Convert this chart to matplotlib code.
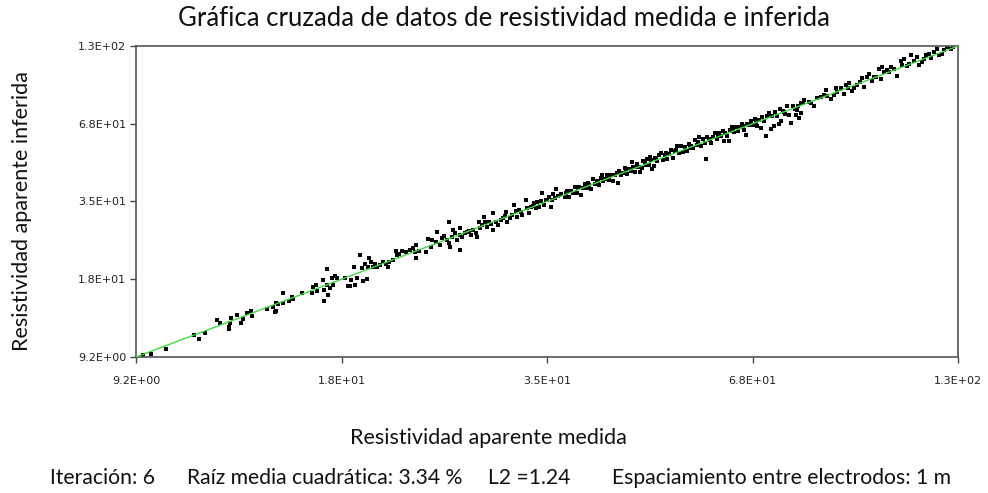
import matplotlib
matplotlib.use("Agg")
import matplotlib.pyplot as plt
import numpy as np

title = "Gráfica cruzada de datos de resistividad medida e inferida"
xlabel = "Resistividad aparente medida"
ylabel = "Resistividad aparente inferida"
footer = ["Iteración: 6", "Raíz media cuadrática: 3.34 %", "L2 =1.24",
          "Espaciamiento entre electrodos: 1 m"]
tick_labels = ["9.2E+00", "1.8E+01", "3.5E+01", "6.8E+01", "1.3E+02"]
axis_min = 9.2
axis_max = 130.0

measured = [
    9.41, 9.65, 10.13, 11.09, 11.27, 11.48, 11.94, 12.05, 12.45, 12.41,
    12.41, 12.49, 12.73, 12.89, 12.97, 13.15, 13.32, 13.37, 14.02, 14.30,
    14.44, 14.44, 14.39, 14.77, 14.77, 14.53, 15.05, 15.20, 15.24, 15.69,
    16.20, 16.25, 16.42, 16.47, 16.79, 16.84, 16.84, 17.00, 17.00, 17.06,
    17.17, 17.28, 17.34, 17.45, 17.56, 18.02, 18.20, 18.31, 18.37, 18.55,
    18.61, 18.73, 18.91, 19.03, 19.10, 19.22, 19.34, 19.40, 19.47, 19.59,
    19.72, 19.85, 19.97, 20.17, 20.36, 20.56, 20.69, 20.82, 21.03, 21.23,
    21.30, 21.50, 21.71, 21.99, 22.21, 22.43, 22.57, 22.64, 22.71, 22.93,
    23.45, 23.60, 23.83, 23.91, 24.22, 24.30, 24.46, 24.62, 24.78, 25.02,
    25.18, 25.51, 25.43, 25.18, 25.34, 26.09, 26.17, 26.09, 25.92, 26.34,
    26.59, 26.76, 27.11, 27.28, 27.55, 27.64, 27.82, 27.91, 28.09, 28.27,
    28.36, 28.54, 28.91, 29.10, 29.10, 29.38, 29.57, 29.85, 30.05, 30.35,
    30.45, 30.74, 30.94, 31.13, 31.33, 31.43, 31.84, 31.94, 32.36, 32.47,
    32.68, 32.89, 33.20, 33.42, 33.52, 33.96, 34.07, 34.29, 34.51, 34.84,
    35.07, 35.18, 35.29, 35.52, 35.63, 35.86, 36.21, 25.75, 26.93, 28.73,
    30.25, 31.64, 33.10, 34.62, 33.74,
    36.69, 36.92, 37.16, 37.40, 37.64, 37.88, 38.12, 38.37, 38.62, 38.87,
    39.12, 39.37, 39.63, 39.89, 40.14, 40.40, 40.66, 40.92, 41.19, 41.45,
    41.72, 41.99, 42.26, 42.53, 42.81, 43.09, 43.51, 43.65, 43.93, 44.21,
    44.49, 44.78, 45.07, 45.36, 45.51, 45.65, 45.95, 46.24, 46.54, 46.69,
    46.99, 47.14, 47.45, 47.75, 48.06, 48.37, 48.53, 48.84, 49.00, 49.32,
    49.63, 49.95, 50.28, 50.60, 50.93, 51.26, 51.59, 51.93, 52.26, 52.60,
    52.94, 53.28, 53.62, 36.81, 38.24, 39.50, 40.79, 42.12, 43.37, 44.64,
    46.10, 47.60, 49.16, 50.76, 52.43, 48.21, 41.32,
    53.96, 54.31, 54.66, 55.02, 55.37, 55.73, 56.09, 56.45, 56.82, 57.18,
    57.55, 57.74, 57.92, 58.30, 58.67, 59.05, 59.43, 59.82, 60.20, 60.59,
    60.98, 61.18, 61.37, 61.77, 62.17, 62.37, 62.77, 63.18, 63.58, 64.00,
    64.41, 64.83, 65.24, 65.66, 65.87, 66.30, 66.72, 67.16, 67.59, 68.02,
    68.46, 68.91, 69.13, 69.57, 70.02, 70.25, 70.70, 71.16, 71.39, 71.85,
    72.08, 72.54, 73.01, 73.25, 73.48, 73.96, 74.44, 74.92, 75.40, 75.89,
    76.38, 76.87, 77.12, 77.37, 77.87, 78.37, 78.88, 54.84, 56.27, 58.49,
    60.01, 62.97, 65.03, 67.81, 70.93, 74.20, 77.62,
    78.37, 79.13, 80.40, 81.72, 82.51, 83.57, 84.93, 85.20, 86.31, 87.15,
    87.71, 87.99, 89.13, 90.00, 90.57, 91.45, 92.34, 92.94, 94.74, 95.36,
    95.97, 96.90, 97.53, 98.47, 99.75, 100.7, 101.4, 101.7, 102.4, 103.4,
    104.7, 105.7, 106.7, 108.1, 108.4, 109.1, 110.9, 111.6, 112.7, 113.8,
    114.6, 115.7, 117.2, 118.3, 119.0, 120.3, 121.4, 122.2, 123.3, 125.3,
    126.9, 128.0, 80.91, 84.39, 91.15, 93.84, 99.11, 104.0, 110.2, 116.4,
    124.1,
]

inferred = [
    9.33, 9.43, 9.85, 11.09, 10.73, 11.28, 12.61, 12.28, 12.29, 11.88,
    11.68, 12.83, 13.15, 12.28, 12.70, 13.38, 13.60, 13.05, 13.83, 14.08,
    14.56, 13.60, 13.50, 15.86, 14.58, 14.45, 14.81, 15.33, 15.06, 15.85,
    15.84, 16.67, 16.98, 16.13, 17.71, 16.27, 14.82, 16.96, 19.41, 15.59,
    16.53, 18.01, 16.98, 18.30, 18.02, 18.02, 16.89, 16.88, 17.76, 19.83,
    17.03, 18.02, 21.88, 19.60, 17.55, 20.30, 17.87, 19.77, 21.36, 20.63,
    19.77, 20.29, 19.77, 20.17, 20.64, 20.28, 19.78, 20.63, 21.03, 22.63,
    21.88, 22.07, 22.64, 22.46, 22.83, 23.24, 22.47, 21.35, 23.82, 22.66,
    22.46, 25.09, 23.43, 24.85, 24.45, 26.63, 23.84, 25.29, 25.73, 24.87,
    28.96, 27.09, 25.54, 24.25, 23.44, 27.55, 25.95, 22.85, 24.89, 25.53,
    26.41, 26.62, 25.97, 27.07, 26.40, 25.54, 28.98, 27.56, 28.26, 30.25,
    28.99, 27.77, 28.50, 31.28, 27.09, 28.99, 28.27, 29.47, 30.05, 31.55,
    29.01, 30.00, 30.78, 33.46, 31.84, 30.24, 31.57, 30.75, 34.95, 32.66,
    31.30, 32.89, 34.07, 32.66, 34.36, 34.65, 37.10, 33.51, 34.95, 35.85,
    32.93, 34.95, 36.96, 35.73, 38.59, 36.35, 36.98, 26.39, 26.84, 29.00,
    30.51, 32.10, 33.21, 34.94, 32.94,
    36.07, 37.87, 35.93, 37.72, 37.32, 39.20, 37.16, 39.02, 36.69, 38.87,
    40.14, 38.70, 39.97, 38.57, 41.87, 40.06, 41.35, 39.90, 42.27, 41.10,
    41.72, 43.45, 41.54, 43.25, 41.01, 43.46, 40.33, 44.79, 43.18, 44.21,
    46.05, 43.66, 45.45, 44.97, 48.29, 46.43, 44.40, 47.44, 46.54, 44.35,
    45.81, 48.79, 47.85, 49.80, 47.24, 49.19, 45.71, 46.79, 50.27, 48.90,
    51.37, 52.10, 49.43, 51.46, 49.65, 51.70, 53.40, 50.19, 53.15, 55.33,
    52.49, 55.58, 52.71, 37.12, 38.89, 40.51, 41.14, 41.76, 44.11, 45.40,
    46.49, 47.20, 49.58, 52.06, 53.77, 50.72, 43.47,
    54.88, 52.95, 56.55, 55.49, 54.43, 58.14, 56.09, 59.89, 55.40, 58.66,
    57.06, 49.54, 59.95, 58.79, 56.72, 60.05, 62.00, 58.81, 61.77, 60.59,
    63.11, 57.66, 61.89, 60.21, 58.07, 63.43, 65.49, 62.64, 65.24, 62.91,
    64.96, 67.10, 63.61, 60.81, 66.99, 66.30, 68.46, 66.59, 69.96, 65.78,
    69.04, 64.91, 70.93, 68.39, 60.64, 71.44, 73.76, 64.26, 71.39, 65.96,
    73.95, 71.93, 67.03, 75.81, 68.63, 74.59, 72.57, 78.16, 72.23, 67.39,
    77.68, 76.22, 72.03, 75.42, 70.32, 73.20, 80.22, 54.37, 57.23, 58.49,
    60.52, 62.97, 65.58, 67.81, 71.53, 74.20, 78.28,
    79.70, 81.83, 80.40, 78.29, 83.21, 84.28, 89.35, 85.20, 83.09, 85.67,
    90.79, 87.99, 90.64, 86.64, 92.88, 94.66, 88.89, 90.60, 95.95, 98.71,
    91.63, 99.42, 102.6, 96.81, 99.75, 106.8, 98.4, 108.3, 104.1, 105.6,
    108.7, 107.0, 101.0, 114.7, 110.2, 116.7, 111.8, 120.0, 114.6, 118.2,
    110.3, 113.3, 120.2, 121.4, 117.0, 123.4, 126.6, 120.1, 121.2, 128.5,
    126.9, 129.1, 80.22, 85.83, 91.15, 93.04, 99.95, 104.0, 109.3, 116.4,
    125.2,
]

W, H = 988, 493
fig = plt.figure(figsize=(W / 100, H / 100), dpi=100)
ax = fig.add_axes([136 / W, 1 - 357 / H, (958 - 136) / W, (357 - 46) / H])
ax.set_xscale("log")
ax.set_yscale("log")
ax.set_xlim(axis_min, axis_max)
ax.set_ylim(axis_min, axis_max)

ax.plot(measured, inferred, linestyle="none", marker="s", markersize=2.4,
        color="black", markeredgewidth=0, zorder=2)
ax.plot([axis_min, axis_max], [axis_min, axis_max], color="#3ddc3d",
        linewidth=1.0, zorder=3)

ticks = np.geomspace(axis_min, axis_max, len(tick_labels))
ax.minorticks_off()
ax.set_xticks(ticks)
ax.set_xticklabels(tick_labels)
ax.set_yticks(ticks)
ax.set_yticklabels(tick_labels)
ax.xaxis.set_minor_locator(matplotlib.ticker.NullLocator())
ax.yaxis.set_minor_locator(matplotlib.ticker.NullLocator())
ax.tick_params(axis="both", which="both", direction="out", length=4,
               width=1, color="#444444", labelsize=8, labelcolor="#222222")
ax.tick_params(axis="x", pad=10)
ax.tick_params(axis="y", pad=3)
for s in ax.spines.values():
    s.set_color("#555555")
    s.set_linewidth(1.2)

fam = ["Lato", "DejaVu Sans"]
fig.text(504 / W, 1 - 19 / H, title, ha="center", va="center",
         fontsize=18.5, family=fam, color="#111111")
fig.text(488 / W, 1 - 438 / H, xlabel, ha="center", va="center",
         fontsize=15.5, family=fam, color="#111111")
fig.text(22 / W, 1 - 211 / H, ylabel, ha="center", va="center",
         rotation=90, fontsize=15.5, family=fam, color="#111111")
foot_x = [50, 187, 488, 612]
for fx, t in zip(foot_x, footer):
    fig.text(fx / W, 1 - 478 / H, t, ha="left", va="center",
             fontsize=15.2, family=fam, color="#111111")

fig.savefig("out.png", dpi=100)
